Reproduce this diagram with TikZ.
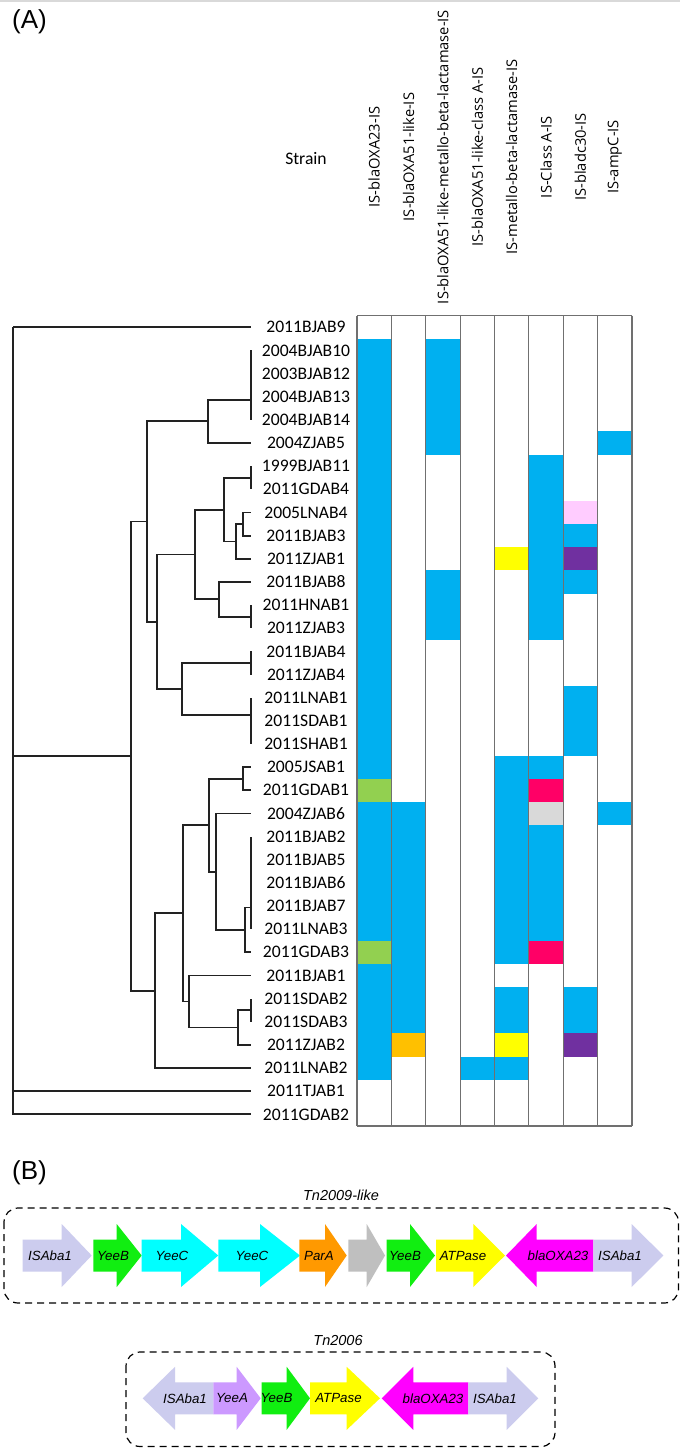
\documentclass[tikz,border=0pt]{standalone}
\usepackage{fontspec}
\setmainfont{Liberation Sans}
\newfontfamily\labfont{Carlito}
\newfontfamily\hdrfont{Open Sans}
\newfontfamily\arialfont{Liberation Sans}
\definecolor{cblue}{HTML}{00B0F0}
\definecolor{cgreen}{HTML}{92D050}
\definecolor{corange}{HTML}{FFC000}
\definecolor{cyellow}{HTML}{FFFF00}
\definecolor{cpink}{HTML}{FFCCFF}
\definecolor{cpurple}{HTML}{7030A0}
\definecolor{cred}{HTML}{FF0066}
\definecolor{cgrey}{HTML}{D9D9D9}
\definecolor{gridc}{HTML}{707070}
\definecolor{treec}{HTML}{222222}
\definecolor{isaba}{HTML}{CCCCEE}
\definecolor{gyeeb}{HTML}{11EE11}
\definecolor{gyeec}{HTML}{00FFFF}
\definecolor{gpara}{HTML}{FF9900}
\definecolor{ggrey}{HTML}{BFBFBF}
\definecolor{gatp}{HTML}{FFFF00}
\definecolor{gbla}{HTML}{FF00FF}
\definecolor{gyeea}{HTML}{CC99FF}
\newcommand\genearrow[5]{%
  \fill[#5] ({#1},{#4-16}) -- ({#2},{#4-16}) -- ({#2},{#4-31.5}) -- ({#3},{#4})
    -- ({#2},{#4+31.5}) -- ({#2},{#4+16}) -- ({#1},{#4+16}) -- cycle;}
\begin{document}
\begin{tikzpicture}[x=1pt,y=-1pt,
  tree/.style={draw=treec,line width=1.8pt},
  strain/.style={font=\labfont\fontsize{17.6}{20}\selectfont,inner sep=0pt},
  colhead/.style={font=\hdrfont\fontsize{14.7}{17}\selectfont,rotate=90,inner sep=0pt},
  panel/.style={font=\arialfont\fontsize{26}{30}\selectfont,anchor=west,inner sep=0pt},
  genelab/.style={font=\arialfont\itshape\fontsize{13.3}{15}\selectfont,inner sep=0pt},
  tntitle/.style={font=\arialfont\itshape\fontsize{14.5}{17}\selectfont,inner sep=0pt},
  tnbox/.style={draw=black,line width=1.2pt,dash pattern=on 7pt off 5pt,rounded corners=14pt},
  gridline/.style={draw=gridc,line width=1.1pt}]
\useasboundingbox (0,0) rectangle (680,1449);
\fill[white] (0,0) rectangle (680,1449);
\draw[draw=cgrey,line width=2pt] (0,1) -- (680,1);

% ---------- panel A ----------
\node[panel] (pa) at (12,22) {(A)};
\node[strain] (strainhead) at (306,159) {Strain};
\foreach \t [count=\j] in {IS-blaOXA23-IS,IS-blaOXA51-like-IS,IS-blaOXA51-like-metallo-beta-lactamase-IS,IS-blaOXA51-like-class A-IS,IS-metallo-beta-lactamase-IS,IS-Class A-IS,IS-bladc30-IS,IS-ampC-IS}
  \node[colhead] (h\j) at ({357+(\j-0.5)*34.375},157) {\t};

\foreach \n [count=\i] in {2011BJAB9,2004BJAB10,2003BJAB12,2004BJAB13,2004BJAB14,2004ZJAB5,1999BJAB11,2011GDAB4,2005LNAB4,2011BJAB3,2011ZJAB1,2011BJAB8,2011HNAB1,2011ZJAB3,2011BJAB4,2011ZJAB4,2011LNAB1,2011SDAB1,2011SHAB1,2005JSAB1,2011GDAB1,2004ZJAB6,2011BJAB2,2011BJAB5,2011BJAB6,2011BJAB7,2011LNAB3,2011GDAB3,2011BJAB1,2011SDAB2,2011SDAB3,2011ZJAB2,2011LNAB2,2011TJAB1,2011GDAB2}{
  \node[strain] (s\i) at (306,{315.7+(\i-0.5)*23.15}) {\n};
  \coordinate (e\i) at (251,{315.7+(\i-0.5)*23.15});
}

% cells
\foreach \c/\a/\b/\col in {1/2/20/cblue,1/21/21/cgreen,1/22/27/cblue,1/28/28/cgreen,1/29/33/cblue,
  2/22/31/cblue,2/32/32/corange,
  3/2/6/cblue,3/12/14/cblue,
  4/33/33/cblue,
  5/11/11/cyellow,5/20/28/cblue,5/30/31/cblue,5/32/32/cyellow,5/33/33/cblue,
  6/7/14/cblue,6/20/20/cblue,6/21/21/cred,6/22/22/cgrey,6/23/27/cblue,6/28/28/cred,
  7/9/9/cpink,7/10/10/cblue,7/11/11/cpurple,7/12/12/cblue,7/17/19/cblue,7/30/31/cblue,7/32/32/cpurple,
  8/6/6/cblue,8/22/22/cblue}
  \fill[\col] ({357+(\c-1)*34.375},{315.7+(\a-1)*23.15}) rectangle ({357+\c*34.375},{315.7+\b*23.15});
\foreach \k in {0,...,8}
  \draw[gridline] ({357+\k*34.375},315.7) -- ({357+\k*34.375},1125.95);
\draw[gridline] (357,315.7) -- (632,315.7);
\draw[gridline] (357,1125.95) -- (632,1125.95);

% tree internal nodes
\coordinate (root) at (13,327.275);
\coordinate (big) at (131,756.1);
\coordinate (A) at (147,521.5);
\coordinate (A1) at (208,421.3);
\coordinate (P25) at (251,399.6);
\coordinate (A2) at (157,621.7);
\coordinate (A2a) at (195,554.45);
\coordinate (A2a1) at (224,509.6);
\coordinate (P78) at (251,477.75);
\coordinate (A2a1b) at (236,541.4);
\coordinate (P910) at (243,524.05);
\coordinate (A2a2) at (219,599.3);
\coordinate (P1314) at (251,616.65);
\coordinate (A2b) at (182,689.0);
\coordinate (P1516) at (251,662.95);
\coordinate (P1719) at (251,715.04);
\coordinate (B) at (155,990.7);
\coordinate (B1) at (183,913.35);
\coordinate (B1a) at (209,825.18);
\coordinate (P2021) at (243,778.7);
\coordinate (B1a2) at (216,871.66);
\coordinate (B1a2b) at (245,929.9);
\coordinate (P2327) at (251,907.47);
\coordinate (B1b) at (189,1001.52);
\coordinate (B1b2) at (238,1027.56);
\coordinate (P3031) at (251,1010.2);

\foreach \p/\c in {root/e1,root/big,root/e34,root/e35,
  big/A,big/B,
  A/A1,A/A2,A1/P25,A1/e6,P25/e2,P25/e5,
  A2/A2a,A2/A2b,A2a/A2a1,A2a/A2a2,A2a1/P78,A2a1/A2a1b,P78/e7,P78/e8,
  A2a1b/P910,A2a1b/e11,P910/e9,P910/e10,A2a2/e12,A2a2/P1314,P1314/e13,P1314/e14,
  A2b/P1516,A2b/P1719,P1516/e15,P1516/e16,P1719/e17,P1719/e19,
  B/B1,B/e33,B1/B1a,B1/B1b,B1a/P2021,B1a/B1a2,P2021/e20,P2021/e21,
  B1a2/e22,B1a2/B1a2b,B1a2b/P2327,B1a2b/e28,P2327/e23,P2327/e27,
  B1b/e29,B1b/B1b2,B1b2/P3031,B1b2/e32,P3031/e30,P3031/e31}
  \draw[tree] (\p) |- (\c);

% ---------- panel B ----------
\node[panel] (pb) at (12,1173) {(B)};

% Tn2009-like
\node[tntitle] (t1) at (341,1195) {Tn2009-like};
\draw[tnbox] (4,1208) rectangle (678.5,1303);
\genearrow{22.7}{61.7}{91.7}{1255.5}{isaba}
\genearrow{93.3}{116.7}{141.7}{1255.5}{gyeeb}
\genearrow{141.7}{181}{218.3}{1255.5}{gyeec}
\genearrow{218.3}{260}{300}{1255.5}{gyeec}
\genearrow{299.3}{325}{346.7}{1255.5}{gpara}
\genearrow{348.3}{366.7}{385}{1255.5}{ggrey}
\genearrow{386.7}{410}{435}{1255.5}{gyeeb}
\genearrow{436}{473.3}{505}{1255.5}{gatp}
\genearrow{593.3}{536.7}{506}{1255.5}{gbla}
\genearrow{593.3}{631.7}{663.3}{1255.5}{isaba}
\node[genelab] (g1) at (50,1255.5) {ISAba1};
\node[genelab] (g2) at (113,1255.5) {YeeB};
\node[genelab] (g3) at (172,1255.5) {YeeC};
\node[genelab] (g4) at (252,1255.5) {YeeC};
\node[genelab] (g5) at (319,1255.5) {ParA};
\node[genelab] (g7) at (405,1255.5) {YeeB};
\node[genelab] (g8) at (463,1255.5) {ATPase};
\node[genelab] (g9) at (558,1255.5) {blaOXA23};
\node[genelab] (g10) at (620,1255.5) {ISAba1};

% Tn2006
\node[tntitle] (t2) at (338,1340) {Tn2006};
\draw[tnbox] (126,1352) rectangle (555,1446.5);
\genearrow{213.3}{175}{142.7}{1398.3}{isaba}
\genearrow{213.3}{236.7}{260.7}{1398.3}{gyeea}
\genearrow{261.7}{286.7}{310}{1398.3}{gyeeb}
\genearrow{310}{346.7}{380}{1398.3}{gatp}
\genearrow{468.3}{413.3}{381.7}{1398.3}{gbla}
\genearrow{468.3}{506.7}{538.3}{1398.3}{isaba}
\node[genelab] (k1) at (185,1398.3) {ISAba1};
\node[genelab] (k2) at (232,1398.3) {YeeA};
\node[genelab] (k3) at (276.5,1398.3) {YeeB};
\node[genelab] (k4) at (338.5,1398.3) {ATPase};
\node[genelab] (k5) at (433,1398.3) {blaOXA23};
\node[genelab] (k6) at (495,1398.3) {ISAba1};
\end{tikzpicture}
\end{document}
